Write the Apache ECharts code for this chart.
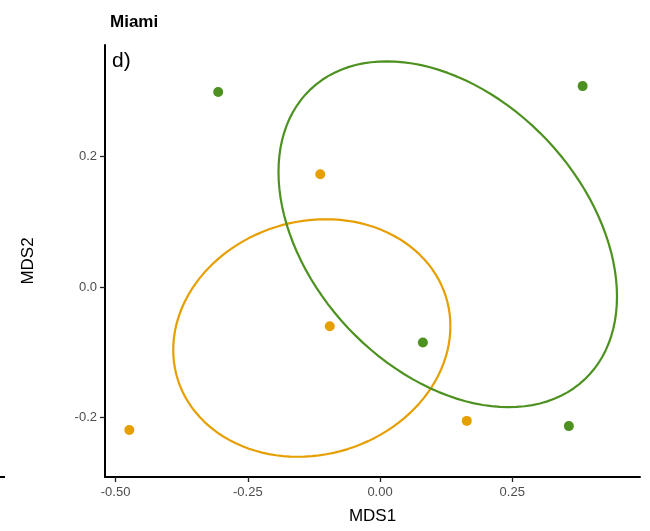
<!DOCTYPE html>
<html>
<head>
<meta charset="utf-8">
<script src="https://cdn.jsdelivr.net/npm/echarts@6/dist/echarts.min.js"></script>
<style>
  html, body { margin: 0; padding: 0; background: #fff; }
  #chart { width: 650px; height: 531px; }
</style>
</head>
<body>
<div id="chart"></div>
<script>
// site groups (no legend in the panel)
const groupNames = ["Group A", "Group B"];
const groupColors = ["#E69F00", "#4D9221"];

// MDS coordinates
const mds1A = [-0.113, -0.095, -0.474, 0.164];
const mds2A = [0.173, -0.060, -0.219, -0.205];
const mds1B = [-0.306, 0.383, 0.081, 0.357];
const mds2B = [0.299, 0.308, -0.085, -0.213];

// ellipse outline: center, half-extent on x and y, correlation
const ellipseA = [-0.129, -0.078, 0.262, 0.182, 0.10];
const ellipseB = [0.128, 0.081, 0.320, 0.265, -0.36];

const xTicks = [-0.5, -0.25, 0, 0.25];
const yTicks = [-0.2, 0, 0.2];

const toPoints = (xs, ys) => xs.map((v, i) => [v, ys[i]]);

const ellipsePath = (e) => {
  const [cx, cy, sx, sy, r] = e;
  const pts = [];
  const n = 120;
  for (let i = 0; i <= n; i++) {
    const t = (i / n) * Math.PI * 2;
    pts.push([
      cx + sx * Math.cos(t),
      cy + sy * (r * Math.cos(t) + Math.sqrt(1 - r * r) * Math.sin(t)),
    ]);
  }
  return pts;
};

const font = "'Liberation Sans', Arial, sans-serif";
const chart = echarts.init(document.getElementById("chart"));

const option = {
  backgroundColor: "#fff",
  animation: false,
  title: {
    text: "Miami",
    left: 105,
    top: 9,
    textStyle: { fontFamily: font, fontSize: 17, fontWeight: "bold", color: "#000" },
  },
  grid: { left: 105, right: 10, top: 45, bottom: 54, containLabel: false },
  xAxis: {
    type: "value",
    min: -0.52,
    max: 0.4915,
    name: "MDS1",
    nameLocation: "middle",
    nameGap: 31,
    nameTextStyle: { fontFamily: font, fontSize: 17, color: "#000" },
    splitLine: { show: false },
    axisLine: { show: true, onZero: false, lineStyle: { color: "#000", width: 2 } },
    axisTick: { show: true, length: 5, customValues: xTicks, lineStyle: { color: "#222", width: 1.3 } },
    axisLabel: {
      customValues: xTicks,
      margin: 9,
      fontFamily: font,
      fontSize: 13,
      color: "#4d4d4d",
      formatter: (v) => v.toFixed(2),
    },
  },
  yAxis: {
    type: "value",
    min: -0.291,
    max: 0.371,
    name: "MDS2",
    nameLocation: "middle",
    nameGap: 68,
    nameRotate: 90,
    nameTextStyle: { fontFamily: font, fontSize: 17, color: "#000" },
    splitLine: { show: false },
    axisLine: { show: true, onZero: false, lineStyle: { color: "#000", width: 2 } },
    axisTick: { show: true, length: 5, customValues: yTicks, lineStyle: { color: "#222", width: 1.3 } },
    axisLabel: {
      customValues: yTicks,
      margin: 8,
      fontFamily: font,
      fontSize: 13,
      color: "#4d4d4d",
      formatter: (v) => v.toFixed(1),
    },
  },
  graphic: [
    {
      type: "text",
      left: 112,
      top: 51,
      style: { text: "d)", fontFamily: font, fontSize: 21, fill: "#000" },
    },
    {
      type: "rect",
      shape: { x: 0, y: 476, width: 5, height: 2 },
      style: { fill: "#000" },
    },
  ],
  series: [
    {
      name: groupNames[0] + " ellipse",
      type: "line",
      data: ellipsePath(ellipseA),
      showSymbol: false,
      smooth: false,
      lineStyle: { color: groupColors[0], width: 2.2 },
      z: 2,
    },
    {
      name: groupNames[1] + " ellipse",
      type: "line",
      data: ellipsePath(ellipseB),
      showSymbol: false,
      smooth: false,
      lineStyle: { color: groupColors[1], width: 2.2 },
      z: 2,
    },
    {
      name: groupNames[0],
      type: "scatter",
      data: toPoints(mds1A, mds2A),
      symbolSize: 10,
      itemStyle: { color: groupColors[0], opacity: 1 },
      z: 3,
    },
    {
      name: groupNames[1],
      type: "scatter",
      data: toPoints(mds1B, mds2B),
      symbolSize: 10,
      itemStyle: { color: groupColors[1], opacity: 1 },
      z: 3,
    },
  ],
};

chart.setOption(option);
</script>
</body>
</html>
